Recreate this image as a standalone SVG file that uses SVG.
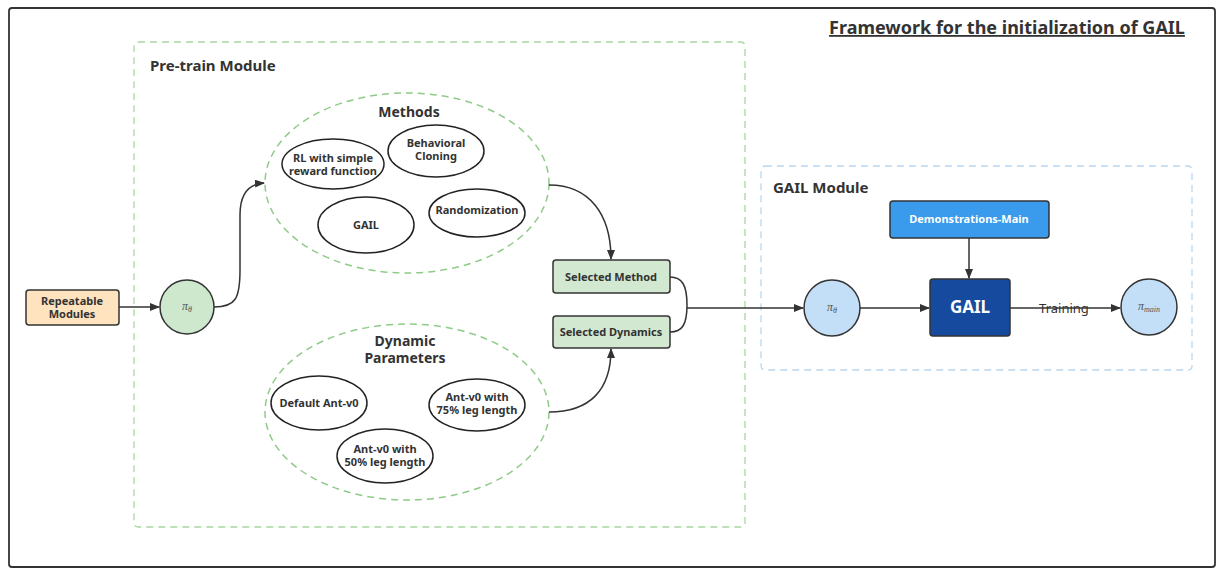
<svg xmlns="http://www.w3.org/2000/svg" width="1225" height="576" viewBox="0 0 1225 576">
<defs>
<marker id="arr" markerWidth="10" markerHeight="8" refX="9" refY="4" orient="auto" markerUnits="userSpaceOnUse">
<path d="M0,0 L10,4 L0,8 Z" fill="#333"/>
</marker>
<style>
text{font-family:"Noto Sans","Open Sans","DejaVu Sans",sans-serif;fill:#333;}
.b{font-weight:700;}
.t11{font-size:11px;font-weight:700;text-anchor:middle;}
.el{fill:#fff;stroke:#222;stroke-width:1.5;}
.grp{fill:none;stroke:#8fcb88;stroke-width:1.5;stroke-dasharray:7 5;}
.edge{fill:none;stroke:#333;stroke-width:1.5;}
.math{font-family:"Liberation Serif","DejaVu Serif",serif;font-style:italic;fill:#555;text-anchor:middle;}
</style>
</defs>
<rect width="1225" height="576" fill="#fff"/>
<g id="frame">
<rect x="9" y="8" width="1206" height="559" rx="3" fill="none" stroke="#333" stroke-width="1.8"/>
<text x="1007" y="34" text-anchor="middle" class="b" font-size="18" text-decoration="underline">Framework for the initialization of GAIL</text>
</g>
<g id="pretrain-module">
<rect x="134" y="42" width="611" height="485" rx="4" fill="none" stroke="#a8d8a0" stroke-width="1.3" stroke-dasharray="7 5"/>
<text x="150" y="71" class="b" font-size="15">Pre-train Module</text>
</g>
<g id="gail-module">
<rect x="761" y="166" width="431" height="204" rx="4" fill="none" stroke="#b9d8f2" stroke-width="1.3" stroke-dasharray="7 5"/>
<text x="773" y="193" class="b" font-size="15">GAIL Module</text>
</g>
<g id="methods">
<ellipse cx="407" cy="183" rx="142" ry="90" class="grp"/>
<text x="409" y="117" class="b" font-size="14" text-anchor="middle">Methods</text>
</g>
<g id="rl-simple">
<ellipse cx="333" cy="164" rx="51" ry="25" class="el"/>
<text x="333" y="162" class="t11">RL with simple</text>
<text x="333" y="175" class="t11">reward function</text>
</g>
<g id="behavioral-cloning">
<ellipse cx="436" cy="151" rx="48" ry="26" class="el"/>
<text x="436" y="147" class="t11">Behavioral</text>
<text x="436" y="160" class="t11">Cloning</text>
</g>
<g id="gail-method">
<ellipse cx="366" cy="225" rx="48" ry="28" class="el"/>
<text x="366" y="229" class="t11">GAIL</text>
</g>
<g id="randomization">
<ellipse cx="477" cy="213" rx="48" ry="24" class="el"/>
<text x="477" y="214" class="t11">Randomization</text>
</g>
<g id="dynamic-parameters">
<ellipse cx="407" cy="412" rx="142" ry="88" class="grp"/>
<text x="405" y="346" class="b" font-size="14" text-anchor="middle">Dynamic</text>
<text x="405" y="363" class="b" font-size="14" text-anchor="middle">Parameters</text>
</g>
<g id="default-ant">
<ellipse cx="319" cy="403" rx="48" ry="27" class="el"/>
<text x="319" y="407" class="t11">Default Ant-v0</text>
</g>
<g id="ant-75">
<ellipse cx="477" cy="405" rx="48" ry="26" class="el"/>
<text x="477" y="401" class="t11">Ant-v0 with</text>
<text x="477" y="414" class="t11">75% leg length</text>
</g>
<g id="ant-50">
<ellipse cx="385" cy="456" rx="48" ry="27" class="el"/>
<text x="385" y="453" class="t11">Ant-v0 with</text>
<text x="385" y="466" class="t11">50% leg length</text>
</g>
<g id="repeatable-modules">
<rect x="26" y="290" width="93" height="35" rx="3" fill="#ffe3bf" stroke="#333" stroke-width="1.5"/>
<text x="72" y="305" class="t11">Repeatable</text>
<text x="72" y="318" class="t11">Modules</text>
</g>
<g id="pi-theta-pretrain">
<circle cx="187" cy="307" r="27" fill="#cde8cc" stroke="#333" stroke-width="1.5"/>
<text x="187" y="310" class="math" font-size="12">π<tspan font-size="8" dy="2">θ</tspan></text>
</g>
<g id="selected-method">
<rect x="553" y="260" width="117" height="33" rx="3" fill="#d2e8d0" stroke="#333" stroke-width="1.5"/>
<text x="611" y="281" class="t11">Selected Method</text>
</g>
<g id="selected-dynamics">
<rect x="553" y="316" width="117" height="32" rx="3" fill="#d2e8d0" stroke="#333" stroke-width="1.5"/>
<text x="611" y="336" class="t11">Selected Dynamics</text>
</g>
<g id="pi-theta-gail">
<circle cx="832" cy="308" r="28" fill="#c2dff7" stroke="#333" stroke-width="1.5"/>
<text x="832" y="311" class="math" font-size="12">π<tspan font-size="8" dy="2">θ</tspan></text>
</g>
<g id="demonstrations-main">
<rect x="890" y="201" width="159" height="37" rx="3" fill="#3a9aec" stroke="#333" stroke-width="1.5"/>
<text x="969" y="223" class="t11" style="fill:#fff">Demonstrations-Main</text>
</g>
<g id="gail-box">
<rect x="930" y="279" width="80" height="57" rx="3" fill="#164a9e" stroke="#333" stroke-width="1.5"/>
<text x="970" y="313" class="b" font-size="17" text-anchor="middle" style="fill:#fff">GAIL</text>
</g>
<g id="pi-main">
<circle cx="1149" cy="307" r="28" fill="#c2dff7" stroke="#333" stroke-width="1.5"/>
<text x="1149" y="310" class="math" font-size="12">π<tspan font-size="8" dy="2">main</tspan></text>
</g>
<g id="connectors">
<path d="M119,307 L159,307" class="edge" marker-end="url(#arr)"/>
<path d="M214,307 C236,307 240,298 240,270 L240,215 C240,195 248,184 264,183" class="edge" marker-end="url(#arr)"/>
<path d="M549,185 C590,185 611,215 611,259" class="edge" marker-end="url(#arr)"/>
<path d="M549,412 C590,412 611,390 611,349" class="edge" marker-end="url(#arr)"/>
<path d="M670,277 C682,277 687,285 687,305 C687,325 682,332 670,332" class="edge"/>
<path d="M687,308 L803,308" class="edge" marker-end="url(#arr)"/>
<path d="M969,238 L969,278" class="edge" marker-end="url(#arr)"/>
<path d="M860,308 L929,308" class="edge" marker-end="url(#arr)"/>
<path d="M1010,308 L1120,308" class="edge" marker-end="url(#arr)"/>
<text x="1064" y="313" font-size="13" text-anchor="middle">Training</text>
</g>
</svg>
